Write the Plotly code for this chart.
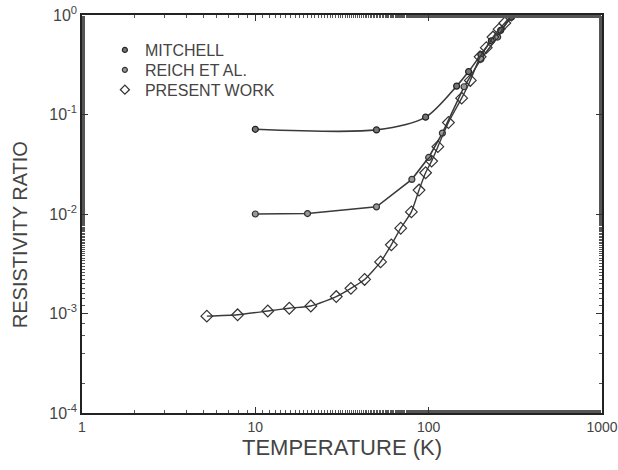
import plotly.graph_objects as go

# Data
mitchell_T = [10, 50, 96, 145, 170, 200, 230, 260, 300]
mitchell_R = [0.071, 0.070, 0.094, 0.193, 0.27, 0.40, 0.55, 0.70, 0.95]

reich_T = [10, 20, 50, 80, 100, 120, 160, 200, 250, 300]
reich_R = [0.010, 0.0101, 0.0118, 0.0223, 0.037, 0.065, 0.19, 0.36, 0.60, 1.0]

present_T = [5.25, 7.9, 11.8, 15.7, 20.9, 29.3, 35.6, 42.7, 52.8, 60.9, 69, 79.5,
             88, 96, 104, 113, 130, 155, 174, 198, 215, 235, 255, 275, 300]
present_R = [0.00094, 0.00097, 0.00106, 0.00113, 0.00119, 0.00148, 0.00179, 0.0022,
             0.0033, 0.0049, 0.0072, 0.0105, 0.0174, 0.026, 0.034, 0.0475, 0.083,
             0.146, 0.22, 0.38, 0.47, 0.60, 0.72, 0.83, 1.0]

legend_names = ["MITCHELL", "REICH ET AL.", "PRESENT WORK"]

x_tickvals = [1, 10, 100, 1000]
x_ticktext = ["1", "10", "100", "1000"]
y_tickvals = [1e-4, 1e-3, 1e-2, 1e-1, 1]
y_ticktext = ["10<sup>-4</sup>", "10<sup>-3</sup>", "10<sup>-2</sup>", "10<sup>-1</sup>", "10<sup>0</sup>"]

line_col = "#3a3a3a"
font_fam = "Liberation Sans, Arial, sans-serif"

mitchell_marker = dict(symbol="circle", size=6, color="#777", line=dict(color="#222", width=1.2))
reich_marker = dict(symbol="circle", size=6, color="#999", line=dict(color="#333", width=1.2))
present_marker = dict(symbol="diamond-open", size=9, color="#333", line=dict(width=1.2))

fig = go.Figure()
fig.add_trace(go.Scatter(
    x=mitchell_T, y=mitchell_R, mode="lines+markers", showlegend=False,
    line=dict(color=line_col, width=1.6, shape="spline", smoothing=0.8),
    marker=mitchell_marker,
))
fig.add_trace(go.Scatter(
    x=reich_T, y=reich_R, mode="lines+markers", showlegend=False,
    line=dict(color=line_col, width=1.6),
    marker=reich_marker,
))
fig.add_trace(go.Scatter(
    x=present_T, y=present_R, mode="lines+markers", showlegend=False,
    line=dict(color=line_col, width=1.4, shape="spline", smoothing=0.6),
    marker=present_marker,
))
# legend entries: marker only, one legend per row for exact spacing
legend_ids = ["legend", "legend2", "legend3"]
legend_markers = [dict(mitchell_marker, size=5), dict(reich_marker, size=5), dict(present_marker, size=7)]
for name, mk, lid in zip(legend_names, legend_markers, legend_ids):
    fig.add_trace(go.Scatter(x=[None], y=[None], mode="markers", name=name, marker=mk, legend=lid))

axis_common = dict(
    type="log", showline=True, linecolor="#222", linewidth=1.5, mirror="ticks",
    ticks="inside", ticklen=6, tickwidth=1, tickcolor="#333",
    showgrid=False, zeroline=False, automargin=False, ticklabeloverflow="allow",
    minor=dict(ticks="inside", ticklen=3, tickcolor="#555", showgrid=False),
)

legend_style = dict(x=0.044, xanchor="left", yanchor="middle", bgcolor="rgba(0,0,0,0)",
                    font=dict(size=16, color="#444"), itemwidth=30)

fig.update_layout(
    width=618, height=470,
    margin=dict(l=82, r=16, t=15, b=57),
    paper_bgcolor="white", plot_bgcolor="white",
    font=dict(family=font_fam, color="#444"),
    showlegend=True,
    legend=dict(legend_style, y=0.912),
    legend2=dict(legend_style, y=0.862),
    legend3=dict(legend_style, y=0.812),
    xaxis=dict(axis_common, range=[0, 3], tickvals=x_tickvals, ticktext=x_ticktext,
               tickfont=dict(family=font_fam, size=14, color="#444"),
               title=dict(text="TEMPERATURE (K)", font=dict(size=22, color="#444"), standoff=6)),
    yaxis=dict(axis_common, range=[-4, 0], tickvals=y_tickvals, ticktext=y_ticktext,
               tickfont=dict(family=font_fam, size=16, color="#444")),
    annotations=[dict(text="RESISTIVITY RATIO", textangle=-90, xref="paper", yref="paper",
                      x=-0.119, y=0.447, xanchor="center", yanchor="middle", showarrow=False,
                      font=dict(size=20, color="#444", family=font_fam))],
)

fig.write_html("out.html", config={"displayModeBar": False},
               post_script="document.body.style.margin='0px';")
